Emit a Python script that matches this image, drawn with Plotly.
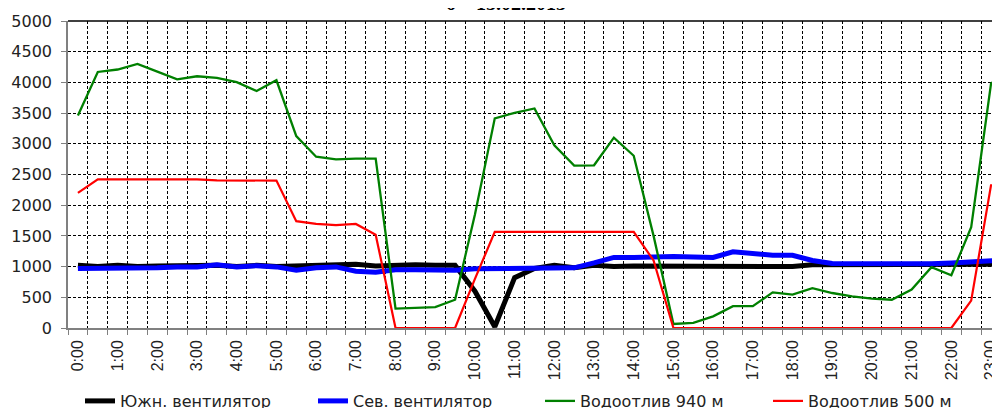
import plotly.graph_objects as go

# Half-hour time stamps
times = [f"{h}:{m:02d}" for h in range(24) for m in (0, 30)]
hours = [int(t.split(":")[0]) + int(t.split(":")[1]) / 60 for t in times]

south_fan = [1020, 1000, 1020, 1000, 1010, 1020, 1010, 1020, 1000, 1020, 1000, 1010,
             1010, 1010, 1040, 1010, 1030, 1030, 1020, 1020, 600, 20, 820, 970,
             1020, 980, 1020, 1000, 1010, 1010, 1020, 1010, 1000, 1010, 1000, 1010,
             1000, 1030, 1030, 1020, 1030, 1020, 1030, 1030, 1030, 1040, 1040, 1040]
north_fan = [970, 970, 970, 970, 980, 995, 995, 1030, 995, 1015, 995, 940,
             980, 995, 925, 910, 950, 950, 950, 940, 965, 965, 965, 965,
             980, 980, 1060, 1150, 1150, 1165, 1165, 1155, 1150, 1240, 1205, 1185,
             1185, 1100, 1050, 1050, 1050, 1030, 1030, 1045, 1060, 1075, 1100, 1110]
pump_940 = [3460, 4170, 4210, 4300, 4175, 4050, 4100, 4075, 4005, 3860, 4035, 3125,
            2790, 2745, 2760, 2760, 315, 325, 340, 460, 1850, 3415, 3505, 3575,
            2975, 2645, 2650, 3100, 2805, 1500, 65, 85, 190, 355, 355, 580,
            545, 650, 570, 515, 480, 460, 625, 990, 860, 1640, 3980, 4250]
pump_500 = [2200, 2420, 2420, 2420, 2420, 2420, 2420, 2405, 2400, 2400, 2400, 1740,
            1695, 1675, 1695, 1520, 0, 0, 0, 0, 800, 1565, 1565, 1565,
            1565, 1565, 1565, 1565, 1565, 1100, 0, 0, 0, 0, 0, 0,
            0, 0, 0, 0, 0, 0, 0, 0, 0, 445, 2325, 2380]

series_names = ["Южн. вентилятор", "Сев. вентилятор", "Водоотлив 940 м", "Водоотлив 500 м"]
series_values = [south_fan, north_fan, pump_940, pump_500]
series_colors = ["#000000", "#0000FF", "#008000", "#FF0000"]
series_widths = [5, 5, 2.3, 2.2]

tick_hours = list(range(24))
tick_labels = [f"{h}:00" for h in tick_hours]
y_ticks = list(range(0, 5001, 500))
title_text = "<b>б – 15.02.2013</b>"

# The page body adds an 8px offset; the figure is sized to fill the window exactly.
OFF = 8
W, H = 1000 - OFF, 408 - OFF
L, R, T, B = 68 - OFF, 0, 21 - OFF, 80
plot_w = W - L - R
plot_h = H - T - B

def sx(px):  # screen x pixel -> paper x
    return (px - OFF - L) / plot_w

def sy(py):  # screen y pixel -> paper y
    return (H - B - (py - OFF)) / plot_h

fig = go.Figure()
legend_ids = ["legend", "legend2", "legend3", "legend4"]
for name, vals, col, w, lid in zip(series_names, series_values, series_colors, series_widths, legend_ids):
    fig.add_trace(go.Scatter(x=hours, y=vals, mode="lines", name=name,
                             line=dict(color=col, width=w), legend=lid))

text_starts = [117, 350, 577, 805]
legend_font = dict(family="DejaVu Sans", size=16, color="#222222")
legend_layouts = {}
for lid, xs in zip(legend_ids, text_starts):
    legend_layouts[lid] = dict(orientation="h", x=sx(xs - 37), xanchor="left",
                               y=sy(401), yanchor="middle",
                               font=legend_font, bgcolor="rgba(0,0,0,0)", borderwidth=0)

boundaries = [h - 0.25 for h in hours]

fig.update_layout(
    width=W, height=H,
    margin=dict(l=L, r=R, t=T, b=B, autoexpand=False),
    paper_bgcolor="white", plot_bgcolor="white",
    showlegend=True,
    **legend_layouts,
    xaxis=dict(
        range=[-0.25, -0.25 + plot_w / 39.7],
        tickmode="array", tickvals=tick_hours, ticktext=tick_labels,
        tickangle=-90, ticks="", showgrid=False, zeroline=False,
        tickfont=dict(family="Liberation Sans", size=16, color="#222222"),
        showline=True, linecolor="#808080", linewidth=1.5,
        ticklabelstandoff=4,
        minor=dict(tickmode="array", tickvals=boundaries, ticks="outside", ticklen=5,
                   tickcolor="#808080", showgrid=True, gridcolor="#000000",
                   griddash="3px,2px", gridwidth=1),
    ),
    yaxis=dict(
        range=[0, 5000], tickmode="array", tickvals=y_ticks,
        ticks="outside", ticklen=5, tickcolor="#808080",
        showgrid=True, gridcolor="#000000", griddash="3px,2px", gridwidth=1,
        zeroline=False, showline=True, linecolor="#808080", linewidth=1.5,
        tickfont=dict(family="DejaVu Sans", size=16, color="#222222"),
        ticklabelstandoff=6,
    ),
    shapes=[dict(type="line", xref="paper", yref="paper", x0=0, x1=1, y0=1, y1=1,
                 line=dict(color="#000000", width=1.5))],
    annotations=[dict(text=title_text, xref="paper", yref="paper",
                      x=sx(506), y=1, xanchor="center", yanchor="bottom",
                      yshift=5, showarrow=False,
                      font=dict(family="Liberation Serif", size=20, color="#000000"))],
)

fig.write_html("out.html")
